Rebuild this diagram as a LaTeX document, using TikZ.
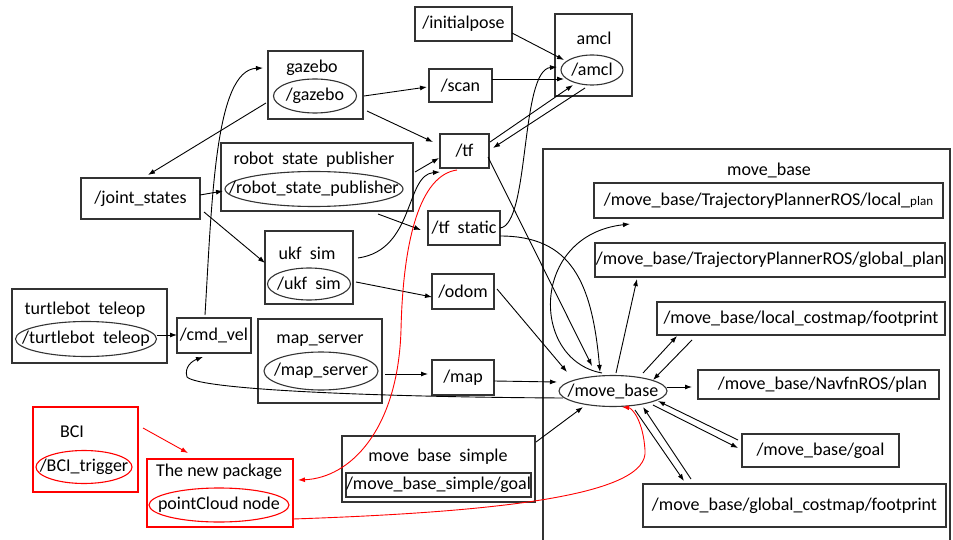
\documentclass[tikz,border=0pt]{standalone}
\usepackage{fontspec}
\setmainfont{Carlito}
\usepackage{tikz}
\usetikzlibrary{shapes.geometric,calc,arrows.meta}
\tikzset{>={Latex[length=7pt,width=5pt]}}

\begin{document}
\begin{tikzpicture}[x=1pt,y=-1pt,
		wh/.style 2 args={minimum width=#1pt, minimum height=#2pt},
		box/.style={draw=black!80, line width=1.1pt, inner sep=0pt},
		topic/.style={box, font=\fontsize{18}{21}\selectfont},
		rosnode/.style={ellipse, draw=black!80, line width=1.1pt, inner xsep=-32pt, inner ysep=0pt, font=\fontsize{18}{21}\selectfont},
		title/.style={inner sep=0pt, font=\fontsize{18}{21}\selectfont},
		redbox/.style={draw=red, line width=1.1pt, inner sep=0pt},
		redellipse/.style={rosnode, draw=red},
		edge/.style={->, line width=0.9pt},
		rededge/.style={->, red, line width=0.9pt}]
	\useasboundingbox (0,0) rectangle (953,540);
	\clip (0,0) rectangle (953,540);
	
	% topics
	\node[topic, wh={97}{34}] (initialpose) at (463.5,24) {/initialpose};
	\node[topic, wh={63}{33}] (scan) at (460.5,85.5) {/scan};
	\node[topic, wh={49}{34}] (tf) at (464.5,151) {/tf};
	\node[topic, wh={72}{34}] (tfstatic) at (464,228) {/tf~~static};
	\node[topic, wh={62}{35}] (odom) at (463,291.5) {/odom};
	\node[topic, wh={62}{35}] (map) at (463,377.5) {/map};
	\node[topic, wh={119}{41}] (jointstates) at (140.5,198.5) {/joint\_states};
	\node[topic, wh={74}{35}] (cmdvel) at (214,335.5) {/cmd\_vel};
	
	% ros nodes
	\node[box, wh={77}{82}] (amcl) at (593.5,55) {};
	\node[title] (amcltitle) at (594,38) {amcl};
	\node[rosnode, wh={62}{30}] (amcle) at (592,70) {/amcl};
	
	\node[box, wh={95}{68}] (gazebo) at (315.5,85) {};
	\node[title] (gazebotitle) at (312,68) {gazebo};
	\node[rosnode, wh={83}{34}] (gazeboe) at (315,96) {/gazebo};
	
	\node[box, wh={192}{68}] (rsp) at (317,177) {};
	\node[title] (rsptitle) at (314,160) {robot~~state~~publisher};
	\node[rosnode, wh={178}{35}] (rspe) at (314,189) {/robot\_state\_publisher};
	
	\node[box, wh={88}{73}] (ukf) at (309,267.5) {};
	\node[title] (ukftitle) at (307,253) {ukf~~sim};
	\node[rosnode, wh={83}{32}] (ukfe) at (309,284) {/ukf~~sim};
	
	\node[box, wh={155}{74}] (turtle) at (89.5,326) {};
	\node[title] (turtletitle) at (85,310) {turtlebot~~teleop};
	\node[rosnode, wh={141}{35}] (turtlee) at (86,339) {/turtlebot~~teleop};
	
	\node[box, wh={124}{84}] (mapserver) at (320,361) {};
	\node[title] (mstitle) at (320,341) {map\_server};
	\node[rosnode, wh={114}{38}] (mse) at (321,371) {/map\_server};
	
	\node[box, wh={193}{66}] (simple) at (438.5,469) {};
	\node[title] (simpletitle) at (438,457) {move~~base~~simple};
	\node[topic, wh={185}{24}] (simplegoal) at (438.5,485) {/move\_base\_simple/goal};
	
	% new part
	\node[redbox, wh={105}{85}] (bci) at (85.5,449.5) {};
	\node[title] (bcititle) at (72,432) {BCI};
	\node[redellipse, wh={96}{33}] (bcie) at (84,467) {/BCI\_trigger};
	
	\node[redbox, wh={146}{68}] (newpkg) at (220,493) {};
	\node[title] (newpkgtitle) at (219,472) {The new package};
	\node[redellipse, wh={140}{34}] (pce) at (219,505) {pointCloud node};
	
	% move_base
	\node[box, wh={407}{411}] (movebase) at (746.5,354.5) {};
	\node[title] (mbtitle) at (769,170) {move\_base};
	\node[rosnode, wh={108}{31}] (mbe) at (613,391) {/move\_base};
	\node[topic, wh={349}{35}] (localplan) at (768.5,200.5) {/move\_base/TrajectoryPlannerROS/local\_{\fontsize{13}{15}\selectfont plan}};
	\node[topic, wh={350}{34}] (globalplan) at (770,260) {/move\_base/TrajectoryPlannerROS/global\_plan};
	\node[topic, wh={288}{33}] (localfoot) at (801,318.5) {/move\_base/local\_costmap/footprint};
	\node[topic, wh={241}{29}] (navfn) at (818.5,384.5) {\hspace{8pt}/move\_base/NavfnROS/plan};
	\node[topic, wh={157}{33}] (goal) at (820.5,450.5) {/move\_base/goal\hspace{6pt}};
	\node[topic, wh={303}{43}] (globalfoot) at (794.5,505.5) {/move\_base/global\_costmap/footprint};
	
	% connectors
	\draw[edge] ($(initialpose)+(48.5,9)$) -- ($(amcle)+(-28,-10)$);
	\draw[edge] ($(scan)+(31.5,-6.5)$) -- ($(amcle)+(-28,9)$);
	\draw[edge] ($(gazebo)+(48.5,11)$) -- ($(scan)+(-33.5,1.5)$);
	\draw[edge] ($(gazebo)+(51.5,26)$) -- ($(tf)+(-31.5,-9)$);
	\draw[edge] ($(gazebo)+(-49.5,18)$) -- ($(jointstates)+(7.5,-23.5)$);
	\draw[edge] ($(jointstates)+(59.5,-3.5)$) -- ($(rspe)+(-91,2)$);
	\draw[edge] ($(jointstates)+(63.5,13.5)$) -- ($(ukf)+(-44,-4.5)$);
	\draw[edge] ($(rsp)+(98,-5)$) -- ($(tf)+(-25.5,7)$);
	\draw[edge] ($(rsp)+(61,37)$) -- ($(tfstatic)+(-43,2)$);
	\draw[edge] ($(ukf)+(49,-9.5)$) .. controls (415,250) and (405,175) .. ($(tf)+(-24.5,21)$);
	\draw[edge] ($(ukfe)+(47,-2)$) -- ($(odom)+(-31,5.5)$);
	\draw[edge] ($(mapserver)+(65,13)$) -- ($(map)+(-35,-3.5)$);
	\draw[edge] ($(map)+(31,3.5)$) -- ($(mbe)+(-56,-9)$);
	\draw[edge] ($(odom)+(34,-2.5)$) -- ($(mbe)+(-46,-19)$);
	\draw[edge] ($(tf)+(23.5,6)$) -- ($(mbe)+(-21,-25)$);
	\draw[edge] ($(tfstatic)+(36,8)$) .. controls (570,236) and (592,280) .. ($(mbe)+(-13,-19)$);
	\draw[edge] ($(tfstatic)+(36,0)$) .. controls (530,225) and (520,70) .. ($(amcle)+(-35,-3)$);
	\draw[edge] ($(tf)+(25.5,-9)$) -- ($(amcle)+(-19,15)$);
	\draw[edge] ($(amcle)+(-7,18)$) -- ($(tf)+(28.5,-3)$);
	\draw[edge] ($(cmdvel)+(-9,-20.5)$) .. controls (212,200) and (215,70) .. ($(gazebo)+(-52.5,-17)$);
	\draw[edge] ($(turtlee)+(71,-4)$) -- ($(cmdvel)+(-37,-0.5)$);
	\draw[edge] ($(mbe)+(-50,7)$) .. controls (380,397) and (200,390) .. (187,377)
		.. controls (184,367) and (192,361) .. ($(cmdvel)+(-11,21.5)$);
	\draw[edge] ($(simple)+(97.5,-27)$) -- ($(mbe)+(-30,16)$);
	\draw[edge] ($(mbe)+(-11,-18)$) .. controls (530,360) and (530,235) .. ($(localplan)+(-138.5,23.5)$);
	\draw[edge] ($(mbe)+(3,-18)$) -- ($(globalplan)+(-133,19)$);
	\draw[edge] ($(mbe)+(30,-18)$) -- ($(localfoot)+(-124,17.5)$);
	\draw[edge] ($(localfoot)+(-109,21.5)$) -- ($(mbe)+(40,-11)$);
	\draw[edge] ($(mbe)+(54,-4)$) -- ($(navfn)+(-126.5,2.5)$);
	\draw[edge] ($(goal)+(-82.5,-10.5)$) -- ($(mbe)+(45,10)$);
	\draw[edge] ($(mbe)+(40,14)$) -- ($(goal)+(-82.5,-2.5)$);
	\draw[edge] ($(mbe)+(22,19)$) -- ($(globalfoot)+(-110.5,-24.5)$);
	\draw[edge] ($(globalfoot)+(-103.5,-26.5)$) -- ($(mbe)+(30,16)$);
	
	% red connectors
	\draw[rededge] ($(bci)+(57.5,-21.5)$) -- ($(newpkg)+(-32,-40)$);
	\draw[rededge] ($(tf)+(-7.5,19)$) .. controls (420,175) and (403,240) .. (401,330)
		.. controls (398,430) and (350,478) .. ($(newpkg)+(78,-13)$);
	\draw[rededge] ($(pce)+(74,14)$) .. controls (500,512) and (650,495) .. (645,450)
		.. controls (643,420) and (632,408) .. ($(mbe)+(9,16)$);
\end{tikzpicture}
\end{document}
